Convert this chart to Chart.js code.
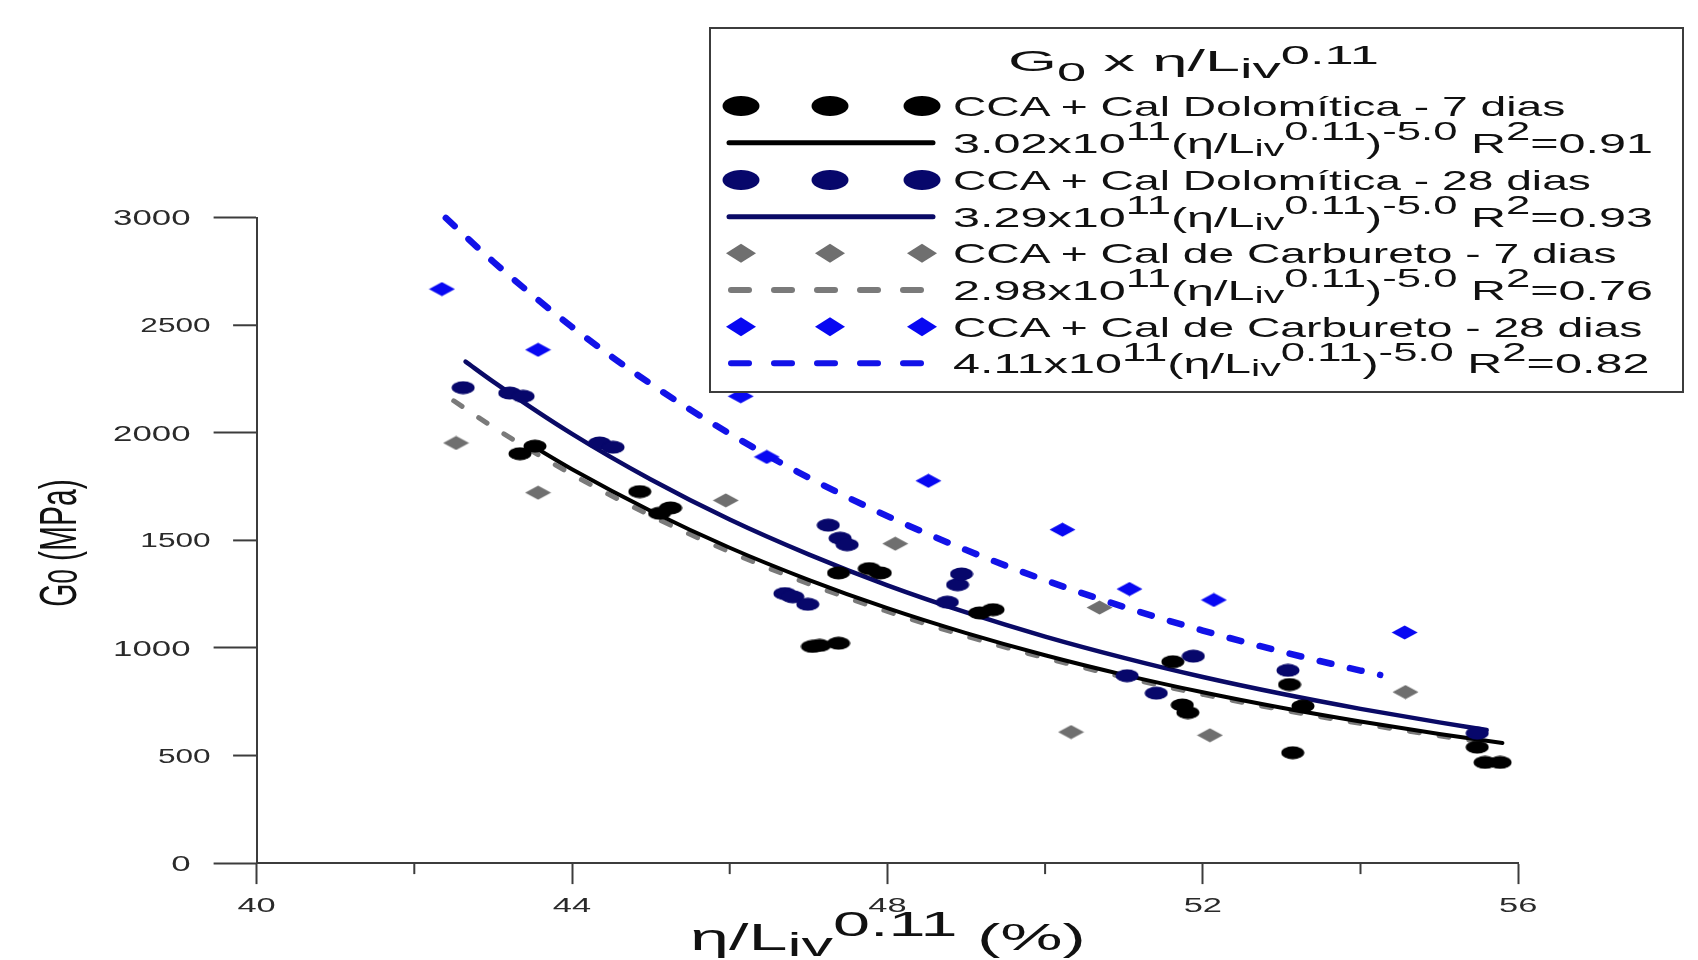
<!DOCTYPE html>
<html>
<head>
<meta charset="utf-8">
<script src="https://cdn.jsdelivr.net/npm/chart.js@4.4.1/dist/chart.umd.min.js"></script>
<style>
  html, body { margin: 0; padding: 0; background: #fff; }
  #wrap { position: relative; width: 1698px; height: 960px; overflow: hidden; }
  #chart { position: absolute; left: 0; top: 0; }
  .txt { position: absolute; white-space: nowrap; font-family: "Liberation Sans", Arial, sans-serif; color: #111; transform-origin: 0 0; }
  .txt sup, .txt sub { position: relative; vertical-align: baseline; line-height: 0; }
  #legend { position: absolute; left: 709px; top: 27px; width: 975px; height: 366px; box-sizing: border-box; border: 2px solid #3c3c3c; background: #fff; }
  #marks { position: absolute; left: 0; top: 0; }
</style>
</head>
<body>
<div id="wrap">
  <canvas id="chart" width="1698" height="960"></canvas>
  <div id="legend"></div>
  <svg id="marks" width="1698" height="960"></svg>
  <div class="txt" id="xTitle">η/L<sub style="font-size:.9em;top:.2em">iv</sub><sup style="font-size:.95em;top:-.4em">0.11</sup> (%)</div>
  <div class="txt" id="yTitle">G<sub style="font-size:.85em;top:.05em">0</sub> (MPa)</div>
  <div class="txt" id="legTitle">G<sub style="top:.38em">0</sub> x η/L<sub style="font-size:.9em;top:.25em">iv</sub><sup style="top:-.27em">0.11</sup></div>
</div>
<script>
// axis ticks
const xTicks = [40, 42, 44, 46, 48, 50, 52, 54, 56];
const yTicks = [0, 500, 1000, 1500, 2000, 2500, 3000];

// series names and fit info (legend)
const seriesNames = [
  'CCA + Cal Dolomítica - 7 dias',
  'CCA + Cal Dolomítica - 28 dias',
  'CCA + Cal de Carbureto - 7 dias',
  'CCA + Cal de Carbureto - 28 dias'
];
const fitCoef = ['3.02', '3.29', '2.98', '4.11'];
const fitR2 = ['0.91', '0.93', '0.76', '0.82'];

// measured points: CCA + Cal Dolomitica 7 dias
const dolo7X = [43.34, 43.53, 44.86, 45.11, 45.25, 47.05, 47.14, 47.38, 47.38, 47.77, 47.91, 49.17, 49.34, 51.62, 51.74, 51.81, 53.10, 53.27, 53.14, 55.48, 55.58, 55.77];
const dolo7Y = [1903, 1938, 1727, 1626, 1651, 1007, 1012, 1022, 1349, 1369, 1349, 1163, 1178, 936, 735, 700, 830, 730, 513, 539, 468, 468];
// CCA + Cal Dolomitica 28 dias
const dolo28X = [42.62, 43.21, 43.38, 44.35, 44.52, 46.70, 46.80, 46.99, 47.25, 47.40, 47.49, 48.76, 48.89, 48.94, 51.04, 51.41, 51.88, 53.08, 55.48];
const dolo28Y = [2210, 2185, 2170, 1953, 1933, 1253, 1238, 1203, 1571, 1510, 1480, 1213, 1294, 1344, 871, 790, 962, 896, 604];
// CCA + Cal de Carbureto 7 dias
const carb7X = [42.53, 43.57, 45.95, 48.10, 50.69, 50.33, 52.09, 54.57];
const carb7Y = [1953, 1722, 1686, 1485, 1188, 609, 594, 795];
// CCA + Cal de Carbureto 28 dias
const carb28X = [42.35, 43.57, 46.14, 46.47, 48.52, 50.22, 51.07, 52.14, 54.56];
const carb28Y = [2668, 2386, 2170, 1888, 1777, 1550, 1274, 1223, 1072];

// fitted curves
const fitDolo7X = [43.45, 44, 45, 46, 47, 48, 49, 50, 51, 52, 53, 54, 55, 55.8];
const fitDolo7Y = [1950, 1831, 1637, 1466, 1317, 1185, 1069, 966, 875, 794, 722, 658, 600, 558];
const fitDolo28X = [42.65, 43, 44, 45, 46, 47, 48, 49, 50, 51, 52, 53, 54, 55, 55.6];
const fitDolo28Y = [2331, 2238, 1995, 1783, 1597, 1435, 1291, 1165, 1053, 954, 865, 787, 717, 654, 619];
const fitCarb7X = [42.5, 43, 44, 45, 46, 47, 48, 49, 50, 51, 52, 53, 54, 55, 55.5];
const fitCarb7Y = [2149, 2027, 1807, 1615, 1447, 1299, 1170, 1055, 954, 864, 784, 713, 649, 592, 566];
const fitCarb28X = [42.4, 43, 44, 45, 46, 47, 48, 49, 50, 51, 52, 53, 54, 54.25];
const fitCarb28Y = [2999, 2796, 2492, 2227, 1996, 1792, 1613, 1455, 1315, 1191, 1081, 983, 895, 875];

const AXIS = '#3c3c3c';
const BLACK = '#000000', NAVY = '#07076b', GRAY = '#6f6f6f', BLUE = '#0808f2';
const NAVY_LINE = '#0a0a66', BLUE_LINE = '#1212e8', GRAY_LINE = '#7a7a7a';
const FONT = '"Liberation Sans", Arial, sans-serif';
const SX = 1.62; // the figure is stretched sideways

const pts = (xs, ys) => xs.map((x, i) => ({ x: x, y: ys[i] }));

// marker images (the source plot is stretched, so circles are ellipses)
function marker(shape, color, w, h) {
  const c = document.createElement('canvas');
  c.width = w; c.height = h;
  const g = c.getContext('2d');
  g.fillStyle = color;
  g.beginPath();
  if (shape === 'circle') {
    g.ellipse(w / 2, h / 2, w / 2 - 0.5, h / 2 - 0.5, 0, 0, Math.PI * 2);
  } else {
    g.moveTo(w / 2, 0.5); g.lineTo(w - 0.5, h / 2); g.lineTo(w / 2, h - 0.5); g.lineTo(0.5, h / 2);
    g.closePath();
  }
  g.fill();
  return c;
}

function pointSet(label, xs, ys, style, order) {
  return { label: label, data: pts(xs, ys), pointStyle: style, pointRadius: 6, showLine: false, order: order };
}
function fitSet(xs, ys, color, width, dash, order) {
  return {
    data: pts(xs, ys), showLine: true, pointRadius: 0, borderColor: color, borderWidth: width,
    borderDash: dash, borderCapStyle: 'round', cubicInterpolationMode: 'monotone', fill: false, clip: false, order: order
  };
}

const axisText = {
  id: 'axisText',
  afterDraw(chart) {
    const { ctx } = chart;
    const x = chart.scales.x, y = chart.scales.y;
    ctx.save();
    ctx.strokeStyle = AXIS;
    ctx.lineWidth = 2;
    // minor ticks
    xTicks.filter(v => v % 4).forEach(v => {
      const px = x.getPixelForValue(v);
      ctx.beginPath(); ctx.moveTo(px, y.bottom); ctx.lineTo(px, y.bottom + 11); ctx.stroke();
    });
    yTicks.filter(v => v % 1000).forEach(v => {
      const py = y.getPixelForValue(v);
      ctx.beginPath(); ctx.moveTo(x.left - 23.5, py); ctx.lineTo(x.left, py); ctx.stroke();
    });
    ctx.fillStyle = '#2a2a2a';
    ctx.textAlign = 'right';
    yTicks.forEach(v => {
      const major = v % 1000 === 0;
      const size = major ? 21.5 : 19.5;
      ctx.font = size + 'px ' + FONT;
      ctx.save();
      ctx.translate(x.left - (major ? 66 : 46), y.getPixelForValue(v) + size * 0.36);
      ctx.scale(SX, 1);
      ctx.fillText(String(v), 0, 0);
      ctx.restore();
    });
    ctx.textAlign = 'center';
    ctx.font = '20.5px ' + FONT;
    xTicks.filter(v => v % 4 === 0).forEach(v => {
      ctx.save();
      ctx.translate(x.getPixelForValue(v), y.bottom + 48.5);
      ctx.scale(1.68, 1);
      ctx.fillText(String(v), 0, 0);
      ctx.restore();
    });
    ctx.restore();
  }
};

new Chart(document.getElementById('chart'), {
  type: 'scatter',
  data: {
    datasets: [
      pointSet(seriesNames[1], dolo28X, dolo28Y, marker('circle', NAVY, 24, 14), 1),
      pointSet(seriesNames[0], dolo7X, dolo7Y, marker('circle', BLACK, 24, 14), 2),
      pointSet(seriesNames[3], carb28X, carb28Y, marker('diamond', BLUE, 27, 15), 3),
      pointSet(seriesNames[2], carb7X, carb7Y, marker('diamond', GRAY, 27, 15), 4),
      fitSet(fitDolo28X, fitDolo28Y, NAVY_LINE, 4.5, [], 5),
      fitSet(fitDolo7X, fitDolo7Y, BLACK, 4, [], 6),
      fitSet(fitCarb7X, fitCarb7Y, GRAY_LINE, 5, [10, 20], 7),
      fitSet(fitCarb28X, fitCarb28Y, BLUE_LINE, 6.5, [12, 19], 8)
    ]
  },
  options: {
    responsive: false,
    devicePixelRatio: 1,
    animation: false,
    events: [],
    layout: { padding: { left: 0, right: 179.8, top: 217.7, bottom: 0 } },
    plugins: { legend: { display: false }, tooltip: { enabled: false } },
    scales: {
      x: {
        type: 'linear', min: 40, max: 56,
        afterBuildTicks: s => { s.ticks = xTicks.map(v => ({ value: v })); },
        afterFit: s => { s.height = 96.9; },
        ticks: { display: false },
        grid: {
          drawOnChartArea: false, drawTicks: true, tickLength: 21, tickWidth: 2,
          tickColor: c => (c.tick && c.tick.value % 4 === 0) ? AXIS : 'rgba(0,0,0,0)'
        },
        border: { display: true, color: AXIS, width: 2 }
      },
      y: {
        type: 'linear', min: 0, max: 3000,
        afterBuildTicks: s => { s.ticks = yTicks.map(v => ({ value: v })); },
        afterFit: s => { s.width = 256.6; },
        ticks: { display: false },
        grid: {
          drawOnChartArea: false, drawTicks: true, tickLength: 43, tickWidth: 2,
          tickColor: c => (c.tick && c.tick.value % 1000 === 0) ? AXIS : 'rgba(0,0,0,0)'
        },
        border: { display: true, color: AXIS, width: 2 }
      }
    }
  },
  plugins: [axisText]
});

// ---- legend and axis titles (real text with sub/superscripts) ----
function baselineOf(el) {
  const probe = document.createElement('span');
  probe.style.cssText = 'display:inline-block;width:0;height:0;vertical-align:baseline';
  el.appendChild(probe);
  return probe.offsetTop;
}
function place(el, size, left, baseline, k) {
  el.style.fontSize = size + 'px';
  el.style.lineHeight = size + 'px';
  const b = baselineOf(el);
  el.style.left = left + 'px';
  el.style.top = (baseline - b) + 'px';
  el.style.transform = 'scaleX(' + k + ')';
}
function natural(el, size) {
  el.style.fontSize = size + 'px';
  el.style.lineHeight = size + 'px';
  return el.offsetWidth;
}

const wrap = document.getElementById('wrap');
const svg = document.getElementById('marks');
const NS = 'http://www.w3.org/2000/svg';
function svgEl(tag, attrs) {
  const e = document.createElementNS(NS, tag);
  for (const k in attrs) e.setAttribute(k, attrs[k]);
  svg.appendChild(e);
}

const rowY = [106, 142.7, 180, 216.7, 253.3, 290, 326.7, 363.3];
const markX = [741, 830, 922];
const legendItems = [
  { shape: 'circle', color: BLACK, line: BLACK, dash: false },
  { shape: 'circle', color: NAVY, line: NAVY_LINE, dash: false },
  { shape: 'diamond', color: GRAY, line: GRAY_LINE, dash: true },
  { shape: 'diamond', color: BLUE, line: BLUE_LINE, dash: true }
];
const LFONT = 28;

let nameK = null, eqK = null;
legendItems.forEach((it, i) => {
  const y1 = rowY[i * 2], y2 = rowY[i * 2 + 1];
  markX.forEach(mx => {
    if (it.shape === 'circle') {
      svgEl('ellipse', { cx: mx, cy: y1, rx: 18.5, ry: 10, fill: it.color });
    } else {
      svgEl('polygon', { points: `${mx},${y1 - 9.5} ${mx + 15},${y1} ${mx},${y1 + 9.5} ${mx - 15},${y1}`, fill: it.color });
    }
  });
  if (it.dash) {
    for (let d = 0; d < 5; d++) {
      const s = 728 + d * 43;
      svgEl('line', { x1: s + 3, y1: y2, x2: s + 21, y2: y2, stroke: it.line, 'stroke-width': 6, 'stroke-linecap': 'round' });
    }
  } else {
    svgEl('line', { x1: 729, y1: y2, x2: 933, y2: y2, stroke: it.line, 'stroke-width': 5, 'stroke-linecap': 'round' });
  }

  const name = document.createElement('div');
  name.className = 'txt';
  name.textContent = seriesNames[i];
  wrap.appendChild(name);
  if (nameK === null) nameK = 612 / natural(name, LFONT);
  place(name, LFONT, 953, y1 + 10, nameK);

  const eq = document.createElement('div');
  eq.className = 'txt';
  eq.innerHTML = fitCoef[i] + 'x10<sup style="font-size:.9em;top:-.5em">11</sup>(η/L<sub style="font-size:.85em;top:.12em">iv</sub>' +
    '<sup style="font-size:.9em;top:-.5em">0.11</sup>)<sup style="font-size:.9em;top:-.5em">-5.0</sup> R' +
    '<sup style="font-size:.9em;top:-.5em">2</sup>=' + fitR2[i];
  wrap.appendChild(eq);
  if (eqK === null) eqK = 700 / natural(eq, LFONT);
  place(eq, LFONT, 953, y2 + 10, eqK);
});

const lt = document.getElementById('legTitle');
const ltK = 371 / natural(lt, 30);
place(lt, 30, 1193 - 371 / 2, 71, ltK);

const xt = document.getElementById('xTitle');
const xtK = 395 / natural(xt, 36);
place(xt, 36, 690, 950, xtK);

const yt = document.getElementById('yTitle');
const yw = natural(yt, 30);
const yh = yt.offsetHeight;
yt.style.left = (59 - yw / 2) + 'px';
yt.style.top = (543 - yh / 2) + 'px';
yt.style.transformOrigin = '50% 50%';
yt.style.transform = 'rotate(-90deg) scale(' + (128 / yw) + ', 1.7)';
</script>
</body>
</html>
